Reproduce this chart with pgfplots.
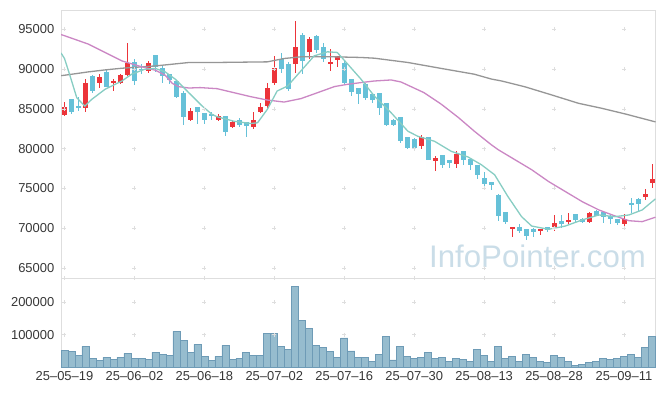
\documentclass[border=0pt]{standalone}
\usepackage{pgfplots}
\pgfplotsset{compat=1.18}
\usepackage{pgfplotstable}
\usepackage{fontspec}
\setmainfont{Liberation Sans}
\definecolor{candleup}{RGB}{236,52,58}
\definecolor{candledown}{RGB}{102,193,216}
\definecolor{volfill}{RGB}{150,188,206}
\definecolor{voledge}{RGB}{110,155,182}
\definecolor{mafive}{RGB}{135,205,195}
\definecolor{matwenty}{RGB}{203,135,196}
\definecolor{masixty}{RGB}{150,150,150}
\definecolor{gridgray}{RGB}{222,222,222}
\definecolor{labelgray}{RGB}{55,55,55}
\definecolor{wmcolor}{RGB}{202,221,232}

\pgfplotstableread{
i O H L C V
0 84200 85850 84050 85200 51500
1 86180 86200 84400 84620 48500
2 85290 86500 84700 85040 36000
3 85040 88780 84620 88190 64000
4 89120 89200 86930 87230 27000
5 88240 89330 87650 88950 20600
6 89620 90040 87730 87730 30000
7 88190 88700 87230 88490 23700
8 88190 89330 88070 89200 30000
9 89240 93240 89120 90710 42000
10 90880 91300 87940 88490 27000
11 90040 90590 89410 89830 27000
12 89750 91010 89540 90710 23700
13 91720 91720 89620 90250 45000
14 90170 90380 88280 89120 39000
15 89330 89400 88070 88570 36000
16 88530 88600 86300 86470 110000
17 86930 87230 82900 83950 82500
18 83650 85080 83440 84660 45000
19 85170 85200 83150 84580 70000
20 84450 84500 83110 83600 33000
21 84290 84580 83650 84080 20600
22 83570 84290 83450 84080 33000
23 84080 84100 81640 82060 67000
24 82690 83650 82600 83400 23700
25 83650 83820 82730 83020 27000
26 83360 83400 81470 82810 45000
27 82730 84620 82520 83530 36000
28 84580 85670 84410 85210 36000
29 85340 88190 85000 87650 104000
30 88190 91640 87940 90170 104000
31 91300 91970 89540 90040 64000
32 90590 90800 87230 87440 54600
33 90670 96050 89540 92690 249500
34 94240 94500 89330 91010 144000
35 92140 93950 91220 93740 119600
36 94160 94200 91970 92350 67000
37 92770 93190 90800 91220 61000
38 90670 92480 89750 90920 48500
39 91130 91640 90290 91640 30000
40 90750 91010 88150 88230 89700
41 88700 88750 86600 87100 49500
42 87560 87600 85650 86810 30000
43 88070 88190 86050 86300 30000
44 86810 86850 85760 86050 17500
45 86930 86950 84160 85040 39000
46 85670 85700 82810 82900 95000
47 83650 83700 82850 82900 21700
48 83950 84000 80710 81010 64000
49 81430 81450 80000 80080 33000
50 81260 81300 80000 80080 26800
51 80380 81680 80000 81470 30000
52 81430 81450 78530 78530 45000
53 78400 79120 77230 78820 26800
54 79160 79200 77560 77980 30000
55 78530 78550 77560 78190 17500
56 78110 79660 77560 79370 26800
57 79660 79700 77980 78530 23700
58 78740 78800 77350 77900 17500
59 77900 77950 76180 76720 54600
60 76340 77010 74830 75550 36000
61 75800 75850 74830 75420 17500
62 74200 74250 70920 71600 64000
63 72020 72050 70550 70760 26800
64 69960 70170 68870 70170 33000
65 70210 70550 69370 69710 17500
66 69870 69900 68530 69030 39000
67 69960 70000 68870 69580 30000
68 69710 69960 69160 69960 17500
69 70170 70200 69500 69790 14400
70 70130 71640 69710 70710 36000
71 70970 71640 70040 70550 30000
72 70840 71930 70550 71090 17500
73 71810 71850 70670 71050 5200
74 71220 71250 70710 70840 8200
75 70840 72060 70710 71930 14400
76 72180 72310 71550 71600 17500
77 72060 72100 70710 71470 26800
78 71600 71650 70550 71130 23700
79 71180 71200 70420 70630 26800
80 70550 71810 70210 71180 33000
81 73240 73780 71890 72940 39000
82 73700 73750 72230 73070 30000
83 73910 74920 73570 74290 60800
84 75670 78070 75040 76220 95000
}\candles

\pgfplotstableread{
x y
0 65000
0 70000
0 75000
0 80000
0 85000
0 90000
0 95000
10 65000
10 70000
10 75000
10 80000
10 85000
10 90000
10 95000
20 65000
20 70000
20 75000
20 80000
20 85000
20 90000
20 95000
30 65000
30 70000
30 75000
30 80000
30 85000
30 90000
30 95000
40 65000
40 70000
40 75000
40 80000
40 85000
40 90000
40 95000
50 65000
50 70000
50 75000
50 80000
50 85000
50 90000
50 95000
60 65000
60 70000
60 75000
60 80000
60 85000
60 90000
60 95000
70 65000
70 70000
70 75000
70 80000
70 85000
70 90000
70 95000
80 65000
80 70000
80 75000
80 80000
80 85000
80 90000
80 95000
}\pricegrid

\pgfplotstableread{
x y
0 100000
0 200000
0 275000
10 100000
10 200000
10 275000
20 100000
20 200000
20 275000
30 100000
30 200000
30 275000
40 100000
40 200000
40 275000
50 100000
50 200000
50 275000
60 100000
60 200000
60 275000
70 100000
70 200000
70 275000
80 100000
80 200000
80 275000
}\volgrid

\pgfplotsset{
  myaxis/.style={
    scale only axis,
    anchor=south west,
    width=594.5bp,
    xmin=-0.5, xmax=84.5,
    axis line style={draw=gridgray, line width=0.8bp},
    tick style={draw=none},
    major tick length=0pt,
    /pgf/number format/assume math mode=true,
    /pgf/number format/1000 sep={},
    /pgf/number format/fixed,
    scaled y ticks=false,
    yticklabel style={font=\fontsize{13}{15}\selectfont, text=labelgray, inner sep=0pt, xshift=-6.5bp},
    xticklabel style={font=\fontsize{13}{15}\selectfont, text=labelgray, inner sep=0pt, anchor=north, yshift=-4.3bp},
    unbounded coords=discard,
  }
}

\begin{document}
\begin{tikzpicture}
\fill[white] (0,0) rectangle (665bp,396bp);
\useasboundingbox (0,0) rectangle (665bp,396bp);

% ---------- price panel ----------
\begin{axis}[myaxis,
  at={(61bp,118bp)},
  height=268bp,
  ymin=63775, ymax=97383,
  ytick={65000,70000,75000,80000,85000,90000,95000},
  xtick=\empty,
]
\node[anchor=base west, inner sep=0pt, font=\fontsize{31.3}{32}\selectfont, text=wmcolor] at (rel axis cs:0.619,0.041) {InfoPointer.com};

\addplot[only marks, mark=+, mark size=2bp, color=gridgray, forget plot] table[x=x, y=y] {\pricegrid};

% wicks
\addplot[draw=none, mark=none, error bars/.cd, y dir=both, y explicit, error mark=none,
  error bar style={line width=1bp, draw=candleup}]
  table[x=i, y expr={ifthenelse(\thisrow{C}>=\thisrow{O},(\thisrow{H}+\thisrow{L})/2,nan)},
        y error expr={(\thisrow{H}-\thisrow{L})/2}] {\candles};
\addplot[draw=none, mark=none, error bars/.cd, y dir=both, y explicit, error mark=none,
  error bar style={line width=1bp, draw=candledown}]
  table[x=i, y expr={ifthenelse(\thisrow{C}<\thisrow{O},(\thisrow{H}+\thisrow{L})/2,nan)},
        y error expr={(\thisrow{H}-\thisrow{L})/2}] {\candles};
% bodies
\addplot[draw=none, mark=none, error bars/.cd, y dir=both, y explicit, error mark=none,
  error bar style={line width=5bp, draw=candleup}]
  table[x=i, y expr={ifthenelse(\thisrow{C}>=\thisrow{O},(\thisrow{O}+\thisrow{C})/2,nan)},
        y error expr={max(abs(\thisrow{C}-\thisrow{O})/2,50)}] {\candles};
\addplot[draw=none, mark=none, error bars/.cd, y dir=both, y explicit, error mark=none,
  error bar style={line width=5bp, draw=candledown}]
  table[x=i, y expr={ifthenelse(\thisrow{C}<\thisrow{O},(\thisrow{O}+\thisrow{C})/2,nan)},
        y error expr={max(abs(\thisrow{C}-\thisrow{O})/2,50)}] {\candles};

% moving averages
\addplot[masixty, line width=1.3bp, mark=none] coordinates {
(-0.5,89150) (0,89200) (3.4,89620) (5.8,89870) (8.2,90080) (13,90370) (17.8,90800) (21.6,90800)
(29,90880) (31.4,91300) (33.8,91510) (38.5,91510) (42.4,91430) (44.3,91340) (49.1,90800)
(53.9,90050) (58.6,89330) (61,88730) (62.5,88480) (65.8,87760) (69.7,86720) (73.5,85680)
(76.8,85060) (80.2,84340) (84.5,83350)};
\addplot[matwenty, line width=1.3bp, mark=none] coordinates {
(-0.5,94300) (0,94160) (3.4,93110) (5.8,92060) (8.2,91000) (10.6,90370) (13,89830) (14.4,89200)
(15.4,88190) (16.3,87770) (17.8,87600) (19.4,87650) (21.8,87520) (24.2,87020) (26.6,86520)
(29,86090) (31.4,85840) (33.8,86270) (36.2,87020) (38.6,87780) (40.5,88070) (42.4,88280)
(44.3,88480) (46.7,88610) (48.1,88360) (51.4,87020) (53.9,85550) (56.3,83910) (58.6,82180)
(61,80500) (62,79870) (64.4,78610) (66.8,77350) (69.2,75880) (71.6,74620) (74,73360)
(76.4,72310) (78.7,71560) (80.7,70960) (82.6,70840) (84.5,71400)};
\addplot[mafive, line width=1.3bp, mark=none] coordinates {
(-0.5,92000) (0,91300) (0.8,89110) (1.75,86390) (2.9,85330) (3.9,86180) (5.8,87440) (8.2,88480)
(9.6,89330) (11.5,89960) (13,90050) (14.4,89620) (15.85,88700) (17.76,87020) (19.7,85330)
(21.1,84290) (21.8,84000) (24.2,83440) (26.6,83150) (27.6,83240) (29,84920) (30.4,87220)
(31.9,87850) (33.8,89740) (35.7,91630) (37.6,92140) (39,92060) (40.5,90590) (42.4,88700)
(44.3,86590) (46.7,84500) (49.1,82180) (50.5,81550) (52.9,80920) (55.3,79660) (57.7,78950)
(59.6,77980) (61.5,76720) (63.4,73990) (65.35,71470) (66.8,70290) (69.2,69880) (71.6,70290)
(74,71050) (76.4,71680) (78.7,71470) (80.7,71680) (82.6,72310) (84.5,73700)};
\end{axis}

% ---------- volume panel ----------
\begin{axis}[myaxis,
  at={(61bp,29bp)},
  height=89bp,
  ymin=0, ymax=275000,
  ytick={100000,200000},
  xtick={0,10,20,30,40,50,60,70,80},
  xticklabels={25--05--19,25--06--02,25--06--18,25--07--02,25--07--16,25--07--30,25--08--13,25--08--28,25--09--11},
  clip=false,
]
\addplot[only marks, mark=+, mark size=2bp, color=gridgray, forget plot] table[x=x, y=y] {\volgrid};
\addplot[ybar, bar width=1, bar shift=0pt, fill=volfill, draw=voledge, line width=0.7bp]
  table[x=i, y=V] {\candles};
\end{axis}
\end{tikzpicture}
\end{document}
